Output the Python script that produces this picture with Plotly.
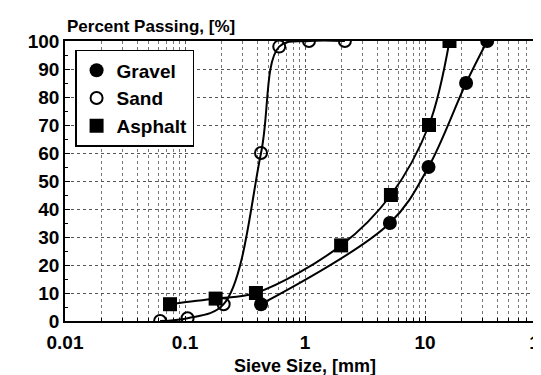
import plotly.graph_objects as go

gravel_x = [0.43, 5.1, 10.7, 22, 33]
gravel_y = [6, 35, 55, 85, 100]
sand_x = [0.062, 0.105, 0.21, 0.43, 0.61, 1.08, 2.15]
sand_y = [0, 1, 6, 60, 98, 100, 100]
asphalt_x = [0.075, 0.18, 0.39, 2.0, 5.2, 10.8, 16]
asphalt_y = [6, 8, 10, 27, 45, 70, 100]
x_ticks = [0.01, 0.1, 1, 10, 100]
x_ticklabels = ["0.01", "0.1", "1", "10", "100"]
y_ticks = list(range(0, 101, 10))

FONT = "Liberation Sans"

series = [
    ("Gravel", gravel_x, gravel_y, dict(symbol="circle", size=14, color="black")),
    ("Sand", sand_x, sand_y, dict(symbol="circle-open", size=12, color="black", line=dict(width=2))),
    ("Asphalt", asphalt_x, asphalt_y, dict(symbol="square", size=14, color="black")),
]

fig = go.Figure()
for name, xs, ys, mk in series:
    fig.add_trace(go.Scatter(x=xs, y=ys, name=name, mode="lines+markers", showlegend=False,
                             line=dict(color="black", width=2, shape="spline"), marker=mk))
# marker-only legend entries
for name, xs, ys, mk in series:
    fig.add_trace(go.Scatter(x=[None], y=[None], name=name, mode="markers", marker=mk,
                             showlegend=True))

fig.update_layout(
    width=541, height=375,
    margin=dict(l=57, r=4, t=33, b=62, autoexpand=False),
    paper_bgcolor="white", plot_bgcolor="white",
    font=dict(family=FONT, size=16, color="black", weight="bold"),
    showlegend=True,
    legend=dict(x=0.021, y=0.968, xanchor="left", yanchor="top",
                bordercolor="black", borderwidth=1.5, bgcolor="white",
                font=dict(size=19, family=FONT, weight="bold"),
                tracegroupgap=0, itemwidth=30),
    annotations=[
        dict(text="Percent Passing, [%]", x=0, y=1, xref="paper", yref="paper",
             xanchor="left", yanchor="bottom", yshift=3, xshift=0, showarrow=False,
             font=dict(size=17, family=FONT, weight="bold")),
    ],
)
fig.update_xaxes(
    type="log", range=[-2, 2], automargin=False,
    tickvals=x_ticks, ticktext=x_ticklabels, ticklabeloverflow="allow",
    showline=True, linecolor="black", linewidth=1.5, mirror=True,
    ticks="inside", ticklen=5, tickcolor="black", ticklabelstandoff=3,
    showgrid=True, gridcolor="#555", griddash="dot", gridwidth=1,
    minor=dict(dtick="D1", showgrid=True, gridcolor="#777", griddash="dot", ticks="inside", ticklen=3),
    title=dict(text="Sieve Size, [mm]", font=dict(size=18, family=FONT, weight="bold"), standoff=8),
    tickfont=dict(size=19, family=FONT, weight="bold"),
    zeroline=False,
)
fig.update_yaxes(
    range=[0, 100], tickvals=y_ticks, automargin=False,
    showline=True, linecolor="black", linewidth=1.5, mirror=True,
    ticks="inside", ticklen=5, tickcolor="black",
    showgrid=True, gridcolor="#555", griddash="dot", gridwidth=1,
    minor=dict(dtick=5, showgrid=False, ticks="inside", ticklen=3),
    tickfont=dict(size=19, family=FONT, weight="bold"),
    zeroline=False,
)
fig.write_html("out.html")
